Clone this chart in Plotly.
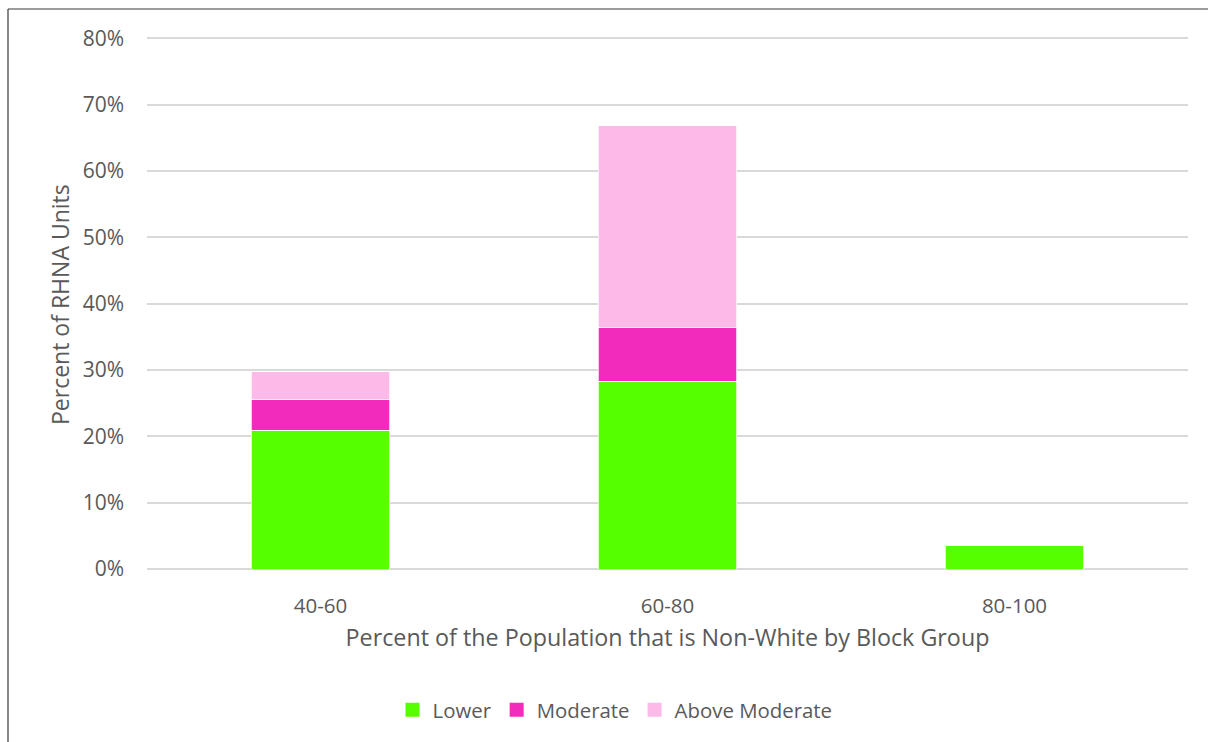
import plotly.graph_objects as go

# Share of RHNA units by non-white population band of the block group
categories = ["40-60", "60-80", "80-100"]
lower = [20.9, 28.3, 3.5]
moderate = [4.7, 8.05, 0.0]
above_moderate = [4.1, 30.45, 0.0]

series_names = ["Lower", "Moderate", "Above Moderate"]
series_colors = ["#55FF00", "#F22BBC", "#FDB9E8"]

y_ticks = [0, 10, 20, 30, 40, 50, 60, 70, 80]
y_tick_labels = ["0%", "10%", "20%", "30%", "40%", "50%", "60%", "70%", "80%"]

FONT = "Open Sans"
GREY = "#595959"

fig = go.Figure()
for name, vals, color in zip(series_names, [lower, moderate, above_moderate], series_colors):
    fig.add_trace(go.Bar(
        x=categories, y=vals, name=name, legendgroup=name, showlegend=False,
        marker=dict(color=color, line=dict(color="white", width=0.75)),
        width=0.4,
    ))
    # legend swatch (square marker, larger than the default bar swatch)
    fig.add_trace(go.Scatter(
        x=[None], y=[None], mode="markers", name=name, legendgroup=name,
        marker=dict(symbol="square", size=14, color=color),
    ))

W, H = 1208, 742
L, R, T, B = 147, 20, 37, 173
pw, ph = W - L - R, H - T - B

def px_to_paper_x(px):
    return (px - L) / pw

def px_to_paper_y(py):
    return (H - B - py) / ph

# Outer chart frame (left and top edges)
frame_x = px_to_paper_x(8)
frame_top = px_to_paper_y(9)
fig.add_shape(type="line", xref="paper", yref="paper",
              x0=frame_x, x1=frame_x, y0=px_to_paper_y(760), y1=frame_top,
              line=dict(color="#3a3a3a", width=1.2))
fig.add_shape(type="line", xref="paper", yref="paper",
              x0=frame_x, x1=px_to_paper_x(1220), y0=frame_top, y1=frame_top,
              line=dict(color="#3a3a3a", width=1.2))

# Vertical axis title
fig.add_annotation(
    text="Percent of RHNA Units", textangle=-90,
    xref="paper", yref="paper",
    x=px_to_paper_x(60), y=px_to_paper_y(305),
    xanchor="center", yanchor="middle", showarrow=False,
    font=dict(size=23, color=GREY, family=FONT),
)

fig.update_layout(
    width=W, height=H,
    margin=dict(l=L, r=R, t=T, b=B),
    barmode="stack",
    plot_bgcolor="white",
    paper_bgcolor="white",
    font=dict(family=FONT, color=GREY),
    showlegend=True,
    legend=dict(
        orientation="h",
        xref="container", yref="container",
        x=615 / W, y=1 - 710 / H,
        xanchor="center", yanchor="middle",
        font=dict(size=20.4, color=GREY, family=FONT),
        itemsizing="trace",
        traceorder="normal",
        itemwidth=30,
    ),
    xaxis=dict(
        showgrid=False,
        showline=False,
        tickfont=dict(size=20.5, color=GREY),
        ticklabelstandoff=22,
        title=dict(text="Percent of the Population that is Non-White by Block Group",
                   font=dict(size=23.3, color=GREY), standoff=12),
    ),
    yaxis=dict(
        range=[0, 80.2],
        tickvals=y_ticks,
        ticktext=y_tick_labels,
        showgrid=True,
        gridcolor="#D9D9D9",
        gridwidth=1.5,
        zeroline=True,
        zerolinecolor="#D9D9D9",
        zerolinewidth=1.5,
        showline=False,
        tickfont=dict(size=21, color=GREY),
        ticklabelstandoff=22,
    ),
)

fig.write_html("out.html")
